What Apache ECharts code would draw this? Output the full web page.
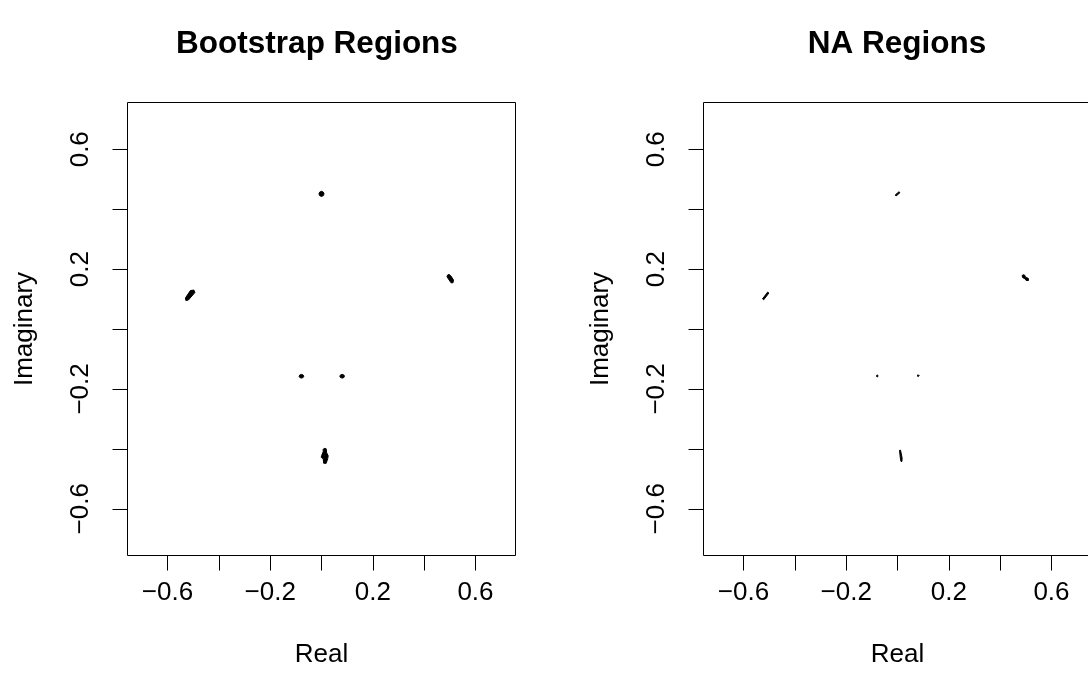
<!DOCTYPE html>
<html>
<head>
<meta charset="utf-8">
<script src="https://cdn.jsdelivr.net/npm/echarts@6/dist/echarts.min.js"></script>
<style>
  html, body { margin: 0; padding: 0; background: #fff; }
  #main { width: 1088px; height: 698px; }
</style>
</head>
<body>
<div id="main"></div>
<script>
// 面板标题与坐标轴
var panelTitles = ['Bootstrap Regions', 'NA Regions'];
var axisRange = [-0.756, 0.756];
var tickValues = [-0.6, -0.4, -0.2, 0, 0.2, 0.4, 0.6];
var labelValues = [-0.6, -0.2, 0.2, 0.6];

// 每个区域是一个多边形 [实部, 虚部]
var bootstrapRegions = [
    [[0.010, 0.451], [0.007, 0.457], [0.000, 0.4595], [-0.007, 0.457], [-0.010, 0.451], [-0.007, 0.445], [0.000, 0.4425], [0.007, 0.445]],
    [[-0.5284, 0.095], [-0.5187, 0.0967], [-0.4934, 0.1217], [-0.4973, 0.130], [-0.5109, 0.1283], [-0.5304, 0.1033]],
    [[0.4911, 0.180], [0.4969, 0.1823], [0.5047, 0.1767], [0.5144, 0.1633], [0.5125, 0.1543], [0.5047, 0.1543], [0.4949, 0.1667], [0.4891, 0.175]],
    [[-0.0692, -0.1577], [-0.0718, -0.1533], [-0.0782, -0.1515], [-0.0846, -0.1533], [-0.0873, -0.1577], [-0.0846, -0.1621], [-0.0782, -0.1639], [-0.0718, -0.1621]],
    [[0.0896, -0.1577], [0.0869, -0.1533], [0.0805, -0.1515], [0.0741, -0.1533], [0.0714, -0.1577], [0.0741, -0.1621], [0.0805, -0.1639], [0.0869, -0.1621]],
    [[0.0105, -0.3983], [0.0183, -0.400], [0.0202, -0.4133], [0.0261, -0.4233], [0.0241, -0.4333], [0.0183, -0.4483], [0.0086, -0.4483], [0.0066, -0.4333], [-0.0012, -0.4283], [0.0008, -0.4217], [0.0066, -0.410], [0.0066, -0.4017]]
];

var naRegions = [
    [[-0.0090, 0.4473], [-0.0054, 0.4440], [0.0093, 0.4547], [0.0062, 0.4582]],
    [[0.4856, 0.1783], [0.4895, 0.181], [0.4953, 0.180], [0.4992, 0.1727], [0.5097, 0.169], [0.5105, 0.162], [0.5012, 0.162], [0.4981, 0.1667], [0.4875, 0.1717]],
    [[-0.5260, 0.1007], [-0.5214, 0.0975], [-0.5012, 0.1200], [-0.5058, 0.1233]],
    [[-0.0750, -0.1567], [-0.0790, -0.1533], [-0.0830, -0.1567], [-0.0790, -0.1601]],
    [[0.0845, -0.1557], [0.0805, -0.1523], [0.0765, -0.1557], [0.0805, -0.1591]],
    [[0.0078, -0.405], [0.0117, -0.4043], [0.0179, -0.430], [0.0175, -0.4417], [0.0136, -0.4423], [0.0109, -0.430]]
];

var FONT = 'Liberation Sans, Arial, Helvetica, sans-serif';

var myChart = echarts.init(document.getElementById('main'));

function fmt(v) {
    return v.toFixed(1).replace('-', '\u2212');
}

function makeXAxis(i) {
    return {
        type: 'value', gridIndex: i,
        min: axisRange[0], max: axisRange[1],
        name: 'Real', nameLocation: 'middle', nameGap: 86,
        nameTextStyle: { color: '#000', fontSize: 26, fontFamily: FONT },
        axisLine: { show: false, onZero: false },
        splitLine: { show: false },
        axisTick: { show: true, inside: false, length: 15, customValues: tickValues,
            lineStyle: { color: '#000', width: 1 } },
        axisLabel: { show: true, customValues: labelValues, formatter: fmt, margin: 24,
            color: '#000', fontSize: 26, fontFamily: FONT }
    };
}

function makeYAxis(i) {
    return {
        type: 'value', gridIndex: i,
        min: axisRange[0], max: axisRange[1],
        name: 'Imaginary', nameLocation: 'middle', nameGap: 90, nameRotate: 90,
        nameTextStyle: { color: '#000', fontSize: 26, fontFamily: FONT },
        axisLine: { show: false, onZero: false },
        splitLine: { show: false },
        axisTick: { show: true, inside: false, length: 15, customValues: tickValues,
            lineStyle: { color: '#000', width: 1 } },
        axisLabel: { show: true, customValues: labelValues, formatter: fmt, margin: 34, rotate: 90,
            color: '#000', fontSize: 26, fontFamily: FONT }
    };
}

function makeRender(regions) {
    return function (params, api) {
        var poly = regions[params.dataIndex];
        return {
            type: 'polygon',
            shape: { points: poly.map(function (p) { return api.coord(p); }) },
            style: { fill: '#000', stroke: '#000', lineWidth: 1 }
        };
    };
}

option = {
    animation: false,
    backgroundColor: '#fff',
    title: [
        { text: panelTitles[0], left: 317, top: 28, textAlign: 'center', padding: 0,
          textStyle: { color: '#000', fontSize: 31.5, fontWeight: 'bold', fontFamily: FONT } },
        { text: panelTitles[1], left: 897, top: 28, textAlign: 'center', padding: 0,
          textStyle: { color: '#000', fontSize: 31.5, fontWeight: 'bold', fontFamily: FONT } }
    ],
    grid: [
        { left: 127.5, top: 102.5, width: 388, height: 453, show: true, outerBoundsMode: 'none',
          containLabel: false, borderColor: '#000', borderWidth: 1, backgroundColor: 'transparent' },
        { left: 703.5, top: 102.5, width: 388, height: 453, show: true, outerBoundsMode: 'none',
          containLabel: false, borderColor: '#000', borderWidth: 1, backgroundColor: 'transparent' }
    ],
    xAxis: [makeXAxis(0), makeXAxis(1)],
    yAxis: [makeYAxis(0), makeYAxis(1)],
    series: [
        { type: 'custom', xAxisIndex: 0, yAxisIndex: 0, renderItem: makeRender(bootstrapRegions),
          data: bootstrapRegions.map(function (r) { return r[0]; }), silent: true },
        { type: 'custom', xAxisIndex: 1, yAxisIndex: 1, renderItem: makeRender(naRegions),
          data: naRegions.map(function (r) { return r[0]; }), silent: true }
    ]
};

myChart.setOption(option);
</script>
</body>
</html>
